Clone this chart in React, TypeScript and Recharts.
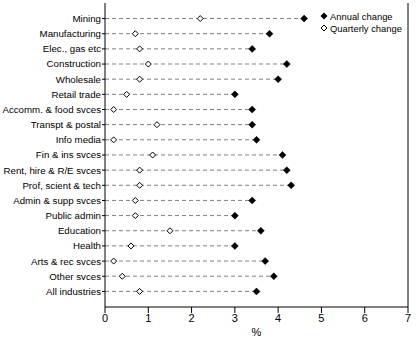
import React from 'react';
import {
  ComposedChart,
  Bar,
  Line,
  XAxis,
  YAxis,
  ReferenceLine,
} from 'recharts';

const industries = [
  'Mining',
  'Manufacturing',
  'Elec., gas etc',
  'Construction',
  'Wholesale',
  'Retail trade',
  'Accomm. & food svces',
  'Transpt & postal',
  'Info media',
  'Fin & ins svces',
  'Rent, hire & R/E svces',
  'Prof, scient & tech',
  'Admin & supp svces',
  'Public admin',
  'Education',
  'Health',
  'Arts & rec svces',
  'Other svces',
  'All industries',
];

const annualChange = [4.6, 3.8, 3.4, 4.2, 4.0, 3.0, 3.4, 3.4, 3.5, 4.1, 4.2, 4.3, 3.4, 3.0, 3.6, 3.0, 3.7, 3.9, 3.5];
const quarterlyChange = [2.2, 0.7, 0.8, 1.0, 0.8, 0.5, 0.2, 1.2, 0.2, 1.1, 0.8, 0.8, 0.7, 0.7, 1.5, 0.6, 0.2, 0.4, 0.8];

const xTicks = [0, 1, 2, 3, 4, 5, 6, 7];

const rows = industries.map((name, i) => ({
  name,
  annual: annualChange[i],
  quarterly: quarterlyChange[i],
}));

const FONT = '"Liberation Sans", Arial, sans-serif';

// dashed leader from the axis out to the annual value
function Leader(props: any) {
  const { x, y, width, height } = props;
  if (x == null || width == null) return null;
  const cy = y + height / 2;
  return (
    <line x1={x} x2={x + width} y1={cy} y2={cy} stroke="#808080" strokeWidth={1} strokeDasharray="4 3" />
  );
}

function diamondPath(cx: number, cy: number, r: number) {
  return `M${cx},${cy - r} L${cx + r},${cy} L${cx},${cy + r} L${cx - r},${cy} Z`;
}

function FilledDiamond(props: any) {
  const { cx, cy, index } = props;
  if (cx == null || cy == null) return <g key={`a${index}`} />;
  return <path key={`a${index}`} d={diamondPath(cx, cy, 3.5)} fill="#000" stroke="#000" strokeWidth={0.5} />;
}

function OpenDiamond(props: any) {
  const { cx, cy, index } = props;
  if (cx == null || cy == null) return <g key={`q${index}`} />;
  return <path key={`q${index}`} d={diamondPath(cx, cy, 3)} fill="#fff" stroke="#000" strokeWidth={1} />;
}

// single-line category label (recharts would wrap the long ones)
function IndustryTick(props: any) {
  const { x, y, payload } = props;
  return (
    <text x={x} y={y} dy="0.35em" textAnchor="end" fill="#000" fontSize={9.7}>
      {payload.value}
    </text>
  );
}

function LegendBox() {
  const row = { display: 'flex', alignItems: 'center', height: 12, whiteSpace: 'nowrap' } as const;
  return (
    <div style={{ position: 'absolute', left: 320, top: 10, fontFamily: FONT, fontSize: 9.4, color: '#000' }}>
      <div style={row}>
        <svg width={8} height={8} style={{ marginRight: 2 }}>
          <path d={diamondPath(4, 4, 3.5)} fill="#000" />
        </svg>
        Annual change
      </div>
      <div style={row}>
        <svg width={8} height={8} style={{ marginRight: 2 }}>
          <path d={diamondPath(4, 4, 3)} fill="#fff" stroke="#000" />
        </svg>
        Quarterly change
      </div>
    </div>
  );
}

export default function App() {
  return (
    <div style={{ position: 'absolute', left: 0, top: 0, width: 416, height: 340, background: '#fff' }}>
      <ComposedChart
        width={416}
        height={340}
        data={rows}
        layout="vertical"
        margin={{ top: 3, right: 8, left: 0, bottom: 0 }}
        style={{ fontFamily: FONT }}
      >
        <XAxis
          type="number"
          domain={[0, 7]}
          ticks={xTicks}
          height={33}
          tickSize={6}
          tickMargin={1}
          stroke="#000"
          tick={{ fill: '#000', fontSize: 11 }}
          label={{ value: '%', position: 'insideBottom', offset: 4, fill: '#000', fontSize: 11 }}
        />
        <XAxis
          xAxisId="top"
          orientation="top"
          type="number"
          domain={[0, 7]}
          ticks={xTicks}
          height={0}
          tickSize={3}
          stroke="#000"
          tickFormatter={() => ''}
        />
        <YAxis
          type="category"
          dataKey="name"
          width={105}
          interval={0}
          tickSize={3}
          tickMargin={1}
          stroke="#000"
          padding={{ top: 8, bottom: 8 }}
          tick={IndustryTick}
        />
        <ReferenceLine x={7} stroke="#000" />
        <Bar dataKey="annual" shape={Leader} isAnimationActive={false} />
        <Line
          dataKey="quarterly"
          stroke="none"
          dot={OpenDiamond}
          activeDot={false}
          isAnimationActive={false}
        />
        <Line
          dataKey="annual"
          stroke="none"
          dot={FilledDiamond}
          activeDot={false}
          isAnimationActive={false}
        />
      </ComposedChart>
      <LegendBox />
    </div>
  );
}
